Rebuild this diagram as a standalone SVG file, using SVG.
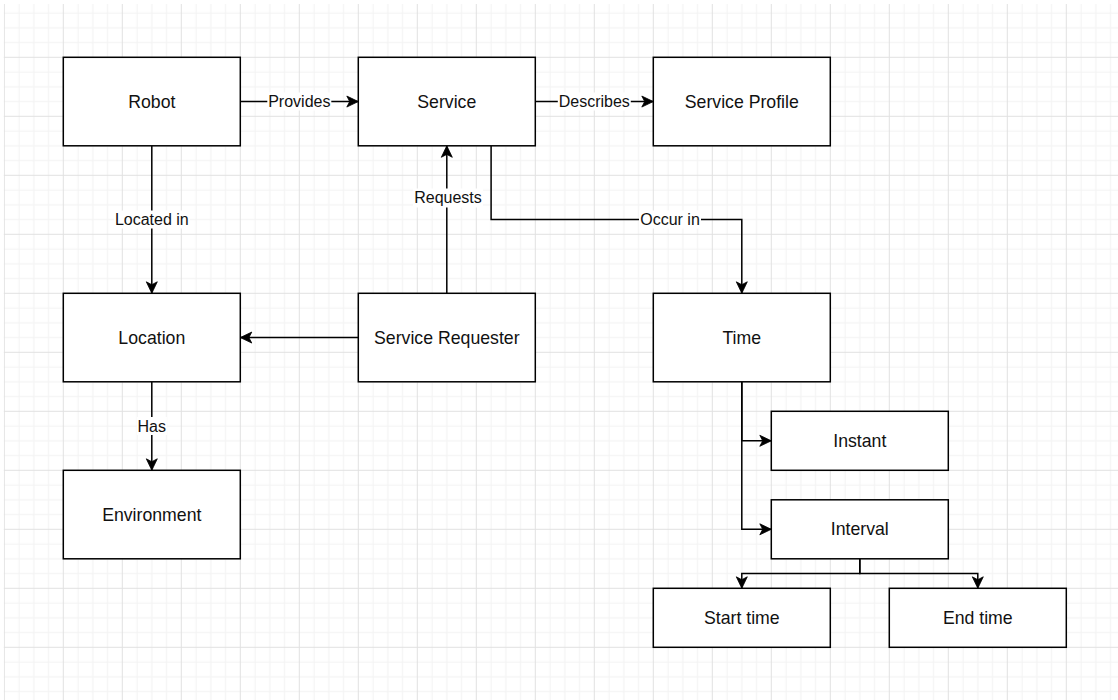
<svg xmlns="http://www.w3.org/2000/svg" width="1118" height="700" viewBox="0 0 1118 700">
  <style>
    .box { fill: #ffffff; stroke: #000000; stroke-width: 1.5; }
    .name { font-family: "Liberation Sans", Arial, sans-serif; font-size: 17.7px; fill: #111111; text-anchor: middle; dominant-baseline: central; }
    .edge { fill: none; stroke: #000000; stroke-width: 1.5; }
    .arrow { marker-end: url(#classic); }
    .lbl-bg { fill: #ffffff; }
    .lbl { font-family: "Liberation Sans", Arial, sans-serif; font-size: 16px; fill: #111111; text-anchor: middle; dominant-baseline: central; }
  </style>
  <defs>
    <!-- filled block arrow with a notched back -->
    <marker id="classic" markerUnits="userSpaceOnUse" viewBox="-13 -7 15 14" markerWidth="15" markerHeight="14" refX="0" refY="0" orient="auto">
      <path d="M0,0 L-11.5,-5.5 L-8.6,0 L-11.5,5.5 Z" fill="#000000" stroke="#000000" stroke-width="0.8" stroke-linejoin="miter"/>
    </marker>
    <!-- background grid: 4 minor cells per major cell -->
    <pattern id="grid" patternUnits="userSpaceOnUse" x="3.8" y="-2.2" width="59" height="59">
      <rect x="14.75" y="0" width="1" height="59" fill="#f2f2f2"/>
      <rect x="29.5" y="0" width="1" height="59" fill="#f2f2f2"/>
      <rect x="44.25" y="0" width="1" height="59" fill="#f2f2f2"/>
      <rect x="0" y="14.75" width="59" height="1" fill="#f2f2f2"/>
      <rect x="0" y="29.5" width="59" height="1" fill="#f2f2f2"/>
      <rect x="0" y="44.25" width="59" height="1" fill="#f2f2f2"/>
      <rect x="0" y="0" width="1" height="59" fill="#e1e1e1"/>
      <rect x="0" y="0" width="59" height="1" fill="#e1e1e1"/>
    </pattern>
  </defs>

  <rect x="0" y="0" width="1118" height="700" fill="#ffffff"/>
  <rect x="3.8" y="4" width="1114.2" height="696" fill="url(#grid)"/>

  <g id="connectors">
    <path class="edge arrow" d="M240.3,101.55 H358.3"/>
    <path class="edge arrow" d="M535.3,101.55 H653.3"/>
    <path class="edge arrow" d="M151.8,145.8 V293.3"/>
    <path class="edge arrow" d="M446.8,293.3 V145.8"/>
    <path class="edge arrow" d="M358.3,337.55 H240.3"/>
    <path class="edge arrow" d="M491.1,145.8 V219.55 H741.8 V293.3"/>
    <path class="edge arrow" d="M151.8,381.8 V470.3"/>
    <path class="edge arrow" d="M741.8,381.8 V440.8 H771.3"/>
    <path class="edge arrow" d="M741.8,381.8 V529.3 H771.3"/>
    <path class="edge arrow" d="M859.8,558.8 V573.55 H741.8 V588.3"/>
    <path class="edge arrow" d="M859.8,558.8 V573.55 H977.8 V588.3"/>

    <rect class="lbl-bg" x="267.3" y="92.5" width="64" height="18"/>
    <text class="lbl" x="299.3" y="101.55">Provides</text>
    <rect class="lbl-bg" x="557.8" y="92.5" width="73" height="18"/>
    <text class="lbl" x="594.3" y="101.55">Describes</text>
    <rect class="lbl-bg" x="113.8" y="210.5" width="76" height="18"/>
    <text class="lbl" x="151.8" y="219.55">Located in</text>
    <rect class="lbl-bg" x="413" y="188.5" width="70" height="19"/>
    <text class="lbl" x="448" y="197.7">Requests</text>
    <rect class="lbl-bg" x="639" y="210.5" width="62" height="18"/>
    <text class="lbl" x="670" y="219.55">Occur in</text>
    <rect class="lbl-bg" x="136.8" y="417" width="30" height="18"/>
    <text class="lbl" x="151.8" y="426">Has</text>
  </g>

  <g id="robot">
    <rect class="box" x="63.3" y="57.3" width="177" height="88.5"/>
    <text class="name" x="151.8" y="101.55">Robot</text>
  </g>
  <g id="service">
    <rect class="box" x="358.3" y="57.3" width="177" height="88.5"/>
    <text class="name" x="446.8" y="101.55">Service</text>
  </g>
  <g id="service-profile">
    <rect class="box" x="653.3" y="57.3" width="177" height="88.5"/>
    <text class="name" x="741.8" y="101.55">Service Profile</text>
  </g>
  <g id="location">
    <rect class="box" x="63.3" y="293.3" width="177" height="88.5"/>
    <text class="name" x="151.8" y="337.55">Location</text>
  </g>
  <g id="service-requester">
    <rect class="box" x="358.3" y="293.3" width="177" height="88.5"/>
    <text class="name" x="446.8" y="337.55">Service Requester</text>
  </g>
  <g id="time">
    <rect class="box" x="653.3" y="293.3" width="177" height="88.5"/>
    <text class="name" x="741.8" y="337.55">Time</text>
  </g>
  <g id="environment">
    <rect class="box" x="63.3" y="470.3" width="177" height="88.5"/>
    <text class="name" x="151.8" y="514.55">Environment</text>
  </g>
  <g id="instant">
    <rect class="box" x="771.3" y="411.3" width="177" height="59"/>
    <text class="name" x="859.8" y="440.8">Instant</text>
  </g>
  <g id="interval">
    <rect class="box" x="771.3" y="499.8" width="177" height="59"/>
    <text class="name" x="859.8" y="529.3">Interval</text>
  </g>
  <g id="start-time">
    <rect class="box" x="653.3" y="588.3" width="177" height="59"/>
    <text class="name" x="741.8" y="617.8">Start time</text>
  </g>
  <g id="end-time">
    <rect class="box" x="889.3" y="588.3" width="177" height="59"/>
    <text class="name" x="977.8" y="617.8">End time</text>
  </g>
</svg>
